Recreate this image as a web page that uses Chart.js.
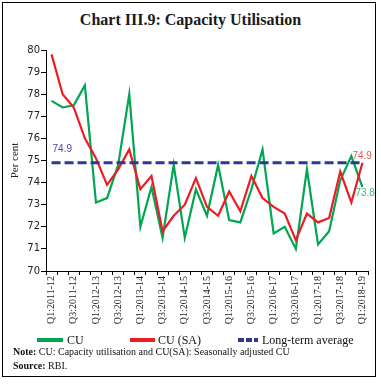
<!DOCTYPE html>
<html>
<head>
<meta charset="utf-8">
<script src="https://cdn.jsdelivr.net/npm/chart.js@4/dist/chart.umd.min.js"></script>
<style>
  html, body { margin: 0; padding: 0; background: #fff; }
  #wrap { position: relative; width: 381px; height: 384px; overflow: hidden; }
  #frame { position: absolute; left: 2px; top: 2px; width: 374px; height: 375px; border: 1.5px solid #000; box-sizing: border-box; }
  #title { position: absolute; left: 0; width: 381px; top: 11px; text-align: center;
           font-family: "Liberation Serif", serif; font-weight: bold; font-size: 16px; color: #1a1a1a; }
  canvas { position: absolute; left: 0; top: 0; }
  #legend { position: absolute; top: 332px; left: 0; width: 381px; height: 16px;
            font-family: "Liberation Serif", serif; font-size: 12px; color: #111; }
  .li { position: absolute; top: 0; height: 16px; line-height: 16px; white-space: nowrap; }
  .sw { position: absolute; top: 6px; height: 4px; }
  .note { position: absolute; left: 13px; font-family: "Liberation Serif", serif; font-size: 10px; color: #111; white-space: nowrap; }
</style>
</head>
<body>
<div id="wrap">
  <div id="frame"></div>
  <div id="title">Chart III.9: Capacity Utilisation</div>
  <canvas id="c" width="381" height="384"></canvas>
  <div id="legend"></div>
  <div class="note" style="top:346px;"><b>Note:</b> CU: Capacity utilisation and CU(SA): Seasonally adjusted CU</div>
  <div class="note" style="top:360px;"><b>Source:</b> RBI.</div>
</div>
<script>
const categories = [
  "Q1:2011-12","Q2:2011-12","Q3:2011-12","Q4:2011-12",
  "Q1:2012-13","Q2:2012-13","Q3:2012-13","Q4:2012-13",
  "Q1:2013-14","Q2:2013-14","Q3:2013-14","Q4:2013-14",
  "Q1:2014-15","Q2:2014-15","Q3:2014-15","Q4:2014-15",
  "Q1:2015-16","Q2:2015-16","Q3:2015-16","Q4:2015-16",
  "Q1:2016-17","Q2:2016-17","Q3:2016-17","Q4:2016-17",
  "Q1:2017-18","Q2:2017-18","Q3:2017-18","Q4:2017-18",
  "Q1:2018-19"
];
const cu = [77.7, 77.4, 77.5, 78.4, 73.1, 73.3, 74.8, 78.0,
            72.0, 73.8, 71.5, 74.8, 71.5, 73.7, 72.5, 74.8,
            72.3, 72.2, 73.7, 75.5, 71.7, 72.0, 71.0, 74.6,
            71.2, 71.8, 74.1, 75.2, 73.8];
const cuSA = [79.8, 78.0, 77.4, 76.0, 75.1, 73.9, 74.6, 75.5,
              73.7, 74.3, 71.8, 72.5, 73.0, 74.2, 72.9, 72.5,
              73.6, 72.7, 74.3, 73.3, 72.9, 72.6, 71.4, 72.6,
              72.2, 72.4, 74.5, 73.1, 74.9];
const longTermAverage = 74.9;
const longTermSeries = [74.9, 74.9, 74.9, 74.9, 74.9, 74.9, 74.9, 74.9,
                        74.9, 74.9, 74.9, 74.9, 74.9, 74.9, 74.9, 74.9,
                        74.9, 74.9, 74.9, 74.9, 74.9, 74.9, 74.9, 74.9,
                        74.9, 74.9, 74.9, 74.9, 74.9];
const yTicks = [70, 71, 72, 73, 74, 75, 76, 77, 78, 79, 80];
const seriesNames = ["CU", "CU (SA)", "Long-term average"];

const GREEN = "#00a651", RED = "#ed1c24", NAVY = "#2b3990";

const endLabels = {
  id: "endLabels",
  afterDatasetsDraw(chart) {
    const ctx = chart.ctx, xs = chart.scales.x, ys = chart.scales.y;
    const last = categories.length - 1;
    ctx.save();
    ctx.font = '10px "Liberation Sans", sans-serif';
    ctx.textBaseline = "middle";
    ctx.textAlign = "left";
    ctx.fillStyle = "#4a4aa8";
    ctx.fillText(longTermAverage.toFixed(1), xs.getPixelForValue(0) + 1, ys.getPixelForValue(longTermAverage) - 13);
    ctx.fillStyle = "#f0505a";
    ctx.fillText(cuSA[last].toFixed(1), xs.getPixelForValue(last) - 10, ys.getPixelForValue(cuSA[last]) - 6.5);
    ctx.fillStyle = "#3cb878";
    ctx.fillText(cu[last].toFixed(1), xs.getPixelForValue(last) - 7, ys.getPixelForValue(cu[last]) + 6.5);
    ctx.restore();
  }
};

new Chart(document.getElementById("c"), {
  type: "line",
  data: {
    labels: categories,
    datasets: [
      { label: seriesNames[0], data: cu, borderColor: GREEN, backgroundColor: GREEN, borderWidth: 2.2, pointRadius: 0, tension: 0, order: 2 },
      { label: seriesNames[1], data: cuSA, borderColor: RED, backgroundColor: RED, borderWidth: 2.2, pointRadius: 0, tension: 0, order: 1 },
      { label: seriesNames[2], data: longTermSeries, borderColor: NAVY, backgroundColor: NAVY, borderWidth: 3, borderDash: [9, 4], pointRadius: 0, tension: 0, order: 0 }
    ]
  },
  options: {
    responsive: false,
    animation: false,
    events: [],
    layout: { padding: { left: 0, right: 13, top: 50, bottom: 53 } },
    plugins: { legend: { display: false }, tooltip: { enabled: false }, title: { display: false } },
    scales: {
      x: {
        type: "category",
        offset: true,
        afterFit(s) { s.height = 60; },
        grid: { display: true, drawOnChartArea: false, drawTicks: true, tickLength: 4, color: "#000", offset: true },
        border: { display: true, color: "#000", width: 1 },
        ticks: {
          autoSkip: false, minRotation: 90, maxRotation: 90, padding: 1,
          color: "#222", font: { family: "Liberation Serif", size: 10 },
          callback(val, idx) { return idx % 2 === 0 ? categories[idx] : ""; }
        }
      },
      y: {
        min: yTicks[0], max: yTicks[yTicks.length - 1],
        afterFit(s) { s.width = 46; },
        afterBuildTicks(s) { s.ticks = yTicks.map(v => ({ value: v })); },
        grid: { display: true, drawOnChartArea: false, drawTicks: true, tickLength: 5, color: "#000" },
        border: { display: true, color: "#000", width: 1 },
        ticks: { padding: 1, color: "#222", font: { family: "DejaVu Sans", size: 10 } },
        title: { display: true, text: "Per cent", color: "#222", font: { family: "Liberation Serif", size: 11 }, padding: { top: 9, bottom: 0 } }
      }
    }
  },
  plugins: [endLabels]
});

// HTML legend built from series names
const legend = document.getElementById("legend");
const items = [
  { name: seriesNames[0], color: GREEN, dash: false, sx: 37, sw: 26, tx: 67 },
  { name: seriesNames[1], color: RED, dash: false, sx: 130, sw: 25, tx: 158 },
  { name: seriesNames[2], color: NAVY, dash: true, sx: 238, sw: 20, tx: 262 }
];
items.forEach(it => {
  const sw = document.createElement("div");
  sw.className = "sw";
  sw.style.left = it.sx + "px";
  sw.style.width = it.sw + "px";
  if (it.dash) {
    sw.style.background = `repeating-linear-gradient(90deg, ${it.color} 0 6px, transparent 6px 8px)`;
  } else {
    sw.style.background = it.color;
  }
  legend.appendChild(sw);
  const t = document.createElement("div");
  t.className = "li";
  t.style.left = it.tx + "px";
  t.textContent = it.name;
  legend.appendChild(t);
});
</script>
</body>
</html>
